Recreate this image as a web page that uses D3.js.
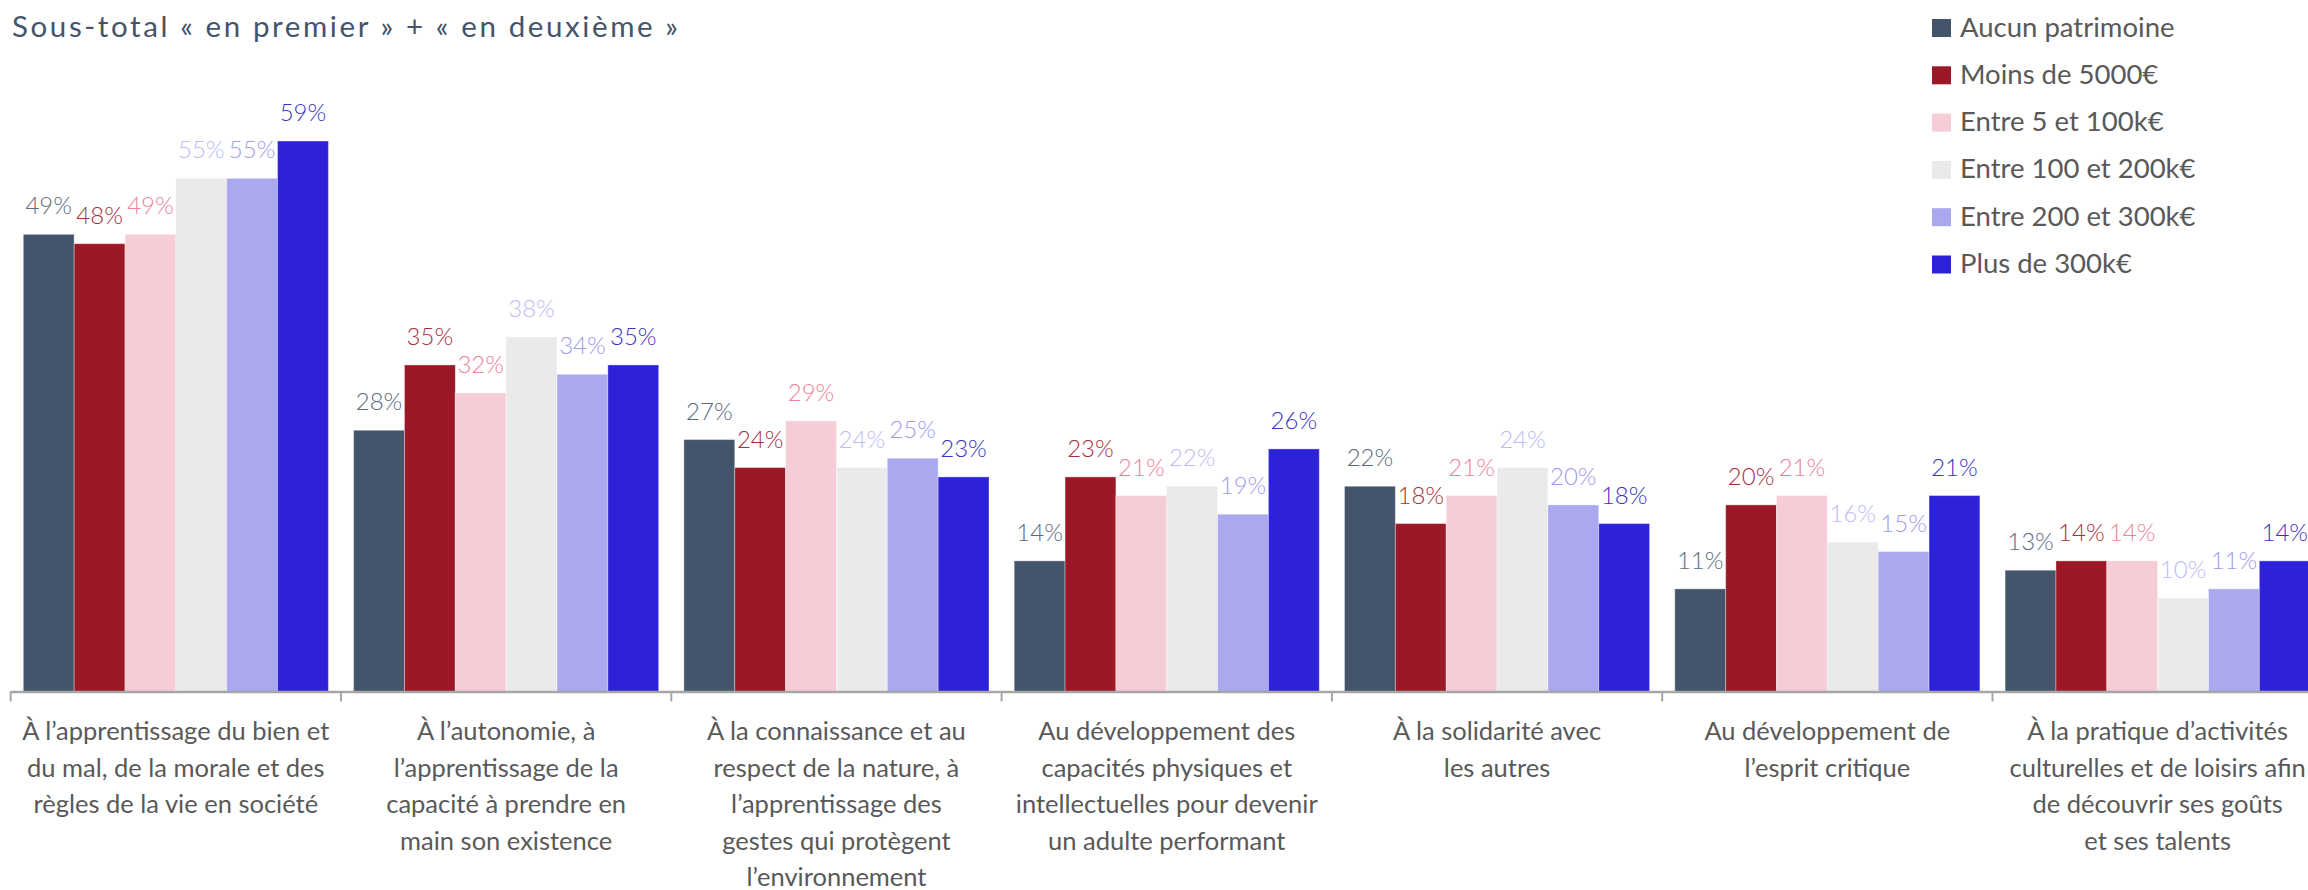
<!DOCTYPE html>
<html>
<head>
<meta charset="utf-8">
<script src="https://cdn.jsdelivr.net/npm/d3@7"></script>
<style>
  html, body { margin: 0; padding: 0; background: #ffffff; }
  svg { display: block; }
  text { font-family: "Lato", "Noto Sans", sans-serif; }
</style>
</head>
<body>
<svg id="chart" width="2308" height="890"></svg>
<script>
// ---- Data ----
const title = "Sous-total « en premier » + « en deuxième »";

const categories = [
  ["À l’apprentissage du bien et", "du mal, de la morale et des", "règles de la vie en société"],
  ["À l’autonomie, à", "l’apprentissage de la", "capacité à prendre en", "main son existence"],
  ["À la connaissance et au", "respect de la nature, à", "l’apprentissage des", "gestes qui protègent", "l’environnement"],
  ["Au développement des", "capacités physiques et", "intellectuelles pour devenir", "un adulte performant"],
  ["À la solidarité avec", "les autres"],
  ["Au développement de", "l’esprit critique"],
  ["À la pratique d’activités", "culturelles et de loisirs afin", "de découvrir ses goûts", "et ses talents"]
];

const series = [
  "Aucun patrimoine",
  "Moins de 5000€",
  "Entre 5 et 100k€",
  "Entre 100 et 200k€",
  "Entre 200 et 300k€",
  "Plus de 300k€"
];

const aucunPatrimoine = [49, 28, 27, 14, 22, 11, 13];
const moinsDe5000     = [48, 35, 24, 23, 18, 20, 14];
const entre5et100k    = [49, 32, 29, 21, 21, 21, 14];
const entre100et200k  = [55, 38, 24, 22, 24, 16, 10];
const entre200et300k  = [55, 34, 25, 19, 20, 15, 11];
const plusDe300k      = [59, 35, 23, 26, 18, 21, 14];

const seriesValues = [aucunPatrimoine, moinsDe5000, entre5et100k, entre100et200k, entre200et300k, plusDe300k];

const barColors   = ["#44546a", "#9b1927", "#f6cdd6", "#eaeaea", "#aaa8ee", "#2e22d9"];
const labelColors = ["#5c6b80", "#a8303e", "#ec8399", "#bcbcf6", "#9e9cec", "#3b35bd"];

// ---- Layout ----
const svg = d3.select("#chart");
const catKeys = categories.map((d, i) => "c" + i);

const x0 = d3.scaleBand()
  .domain(catKeys)
  .range([10.7, 10.7 + 7 * 330.3])
  .paddingInner(0).paddingOuter(0);

const x1 = d3.scaleBand()
  .domain(series)
  .range([0, x0.bandwidth()])
  .paddingInner(0).paddingOuter(0.248);

const baseY = 691.5;
const y = d3.scaleLinear().domain([0, 100]).range([baseY, baseY - 933]);

// Bars
const groups = svg.append("g").selectAll("g")
  .data(catKeys)
  .join("g")
  .attr("transform", d => `translate(${x0(d)},0)`);

groups.each(function(ck, ci) {
  const g = d3.select(this);
  const rows = series.map((s, si) => ({ s, si, v: seriesValues[si][ci] }));
  g.selectAll("rect")
    .data(rows)
    .join("rect")
    .attr("x", d => x1(d.s))
    .attr("y", d => y(d.v))
    .attr("width", x1.bandwidth())
    .attr("height", d => baseY - y(d.v))
    .attr("fill", d => barColors[d.si])
    .attr("stroke", "#ffffff")
    .attr("stroke-opacity", 0.35)
    .attr("stroke-width", 1);
  g.selectAll("text.val")
    .data(rows)
    .join("text")
    .attr("class", "val")
    .attr("x", d => x1(d.s) + x1.bandwidth() / 2)
    .attr("y", d => y(d.v) - 20)
    .attr("text-anchor", "middle")
    .attr("font-size", 24)
    .attr("font-weight", 300)
    .attr("fill", d => labelColors[d.si])
    .text(d => Math.round(d.v) + "%");
});

// Axis line and ticks at category boundaries
const axisG = svg.append("g");
const xEnd = x0.range()[1];
axisG.append("line")
  .attr("x1", x0.range()[0]).attr("x2", xEnd)
  .attr("y1", baseY + 0.5).attr("y2", baseY + 0.5)
  .attr("stroke", "#a6a6a6").attr("stroke-width", 2.5);
const tickPos = catKeys.map(k => x0(k)).concat([xEnd]);
axisG.selectAll("line.tick")
  .data(tickPos)
  .join("line")
  .attr("class", "tick")
  .attr("x1", d => d).attr("x2", d => d)
  .attr("y1", baseY).attr("y2", baseY + 10)
  .attr("stroke", "#a6a6a6").attr("stroke-width", 2);

// Category labels
const catG = svg.append("g");
categories.forEach((lines, ci) => {
  const cx = x0(catKeys[ci]) + x0.bandwidth() / 2;
  const t = catG.append("text")
    .attr("x", cx)
    .attr("y", 740)
    .attr("text-anchor", "middle")
    .attr("font-size", 25.5)
    .attr("fill", "#595959");
  lines.forEach((ln, li) => {
    t.append("tspan")
      .attr("x", cx)
      .attr("dy", li === 0 ? 0 : 36.5)
      .text(ln);
  });
});

// Title
svg.append("text")
  .attr("x", 12)
  .attr("y", 37)
  .attr("font-size", 29.5)
  .attr("letter-spacing", 2.6)
  .attr("fill", "#44546a")
  .text(title);

// Legend
const legend = svg.append("g");
series.forEach((s, i) => {
  legend.append("rect")
    .attr("x", 1932).attr("y", 19 + i * 47.3)
    .attr("width", 19).attr("height", 18)
    .attr("fill", barColors[i]);
  legend.append("text")
    .attr("x", 1960).attr("y", 36.5 + i * 47.3)
    .attr("font-size", 27.5)
    .attr("fill", "#595959")
    .text(s);
});
</script>
</body>
</html>
